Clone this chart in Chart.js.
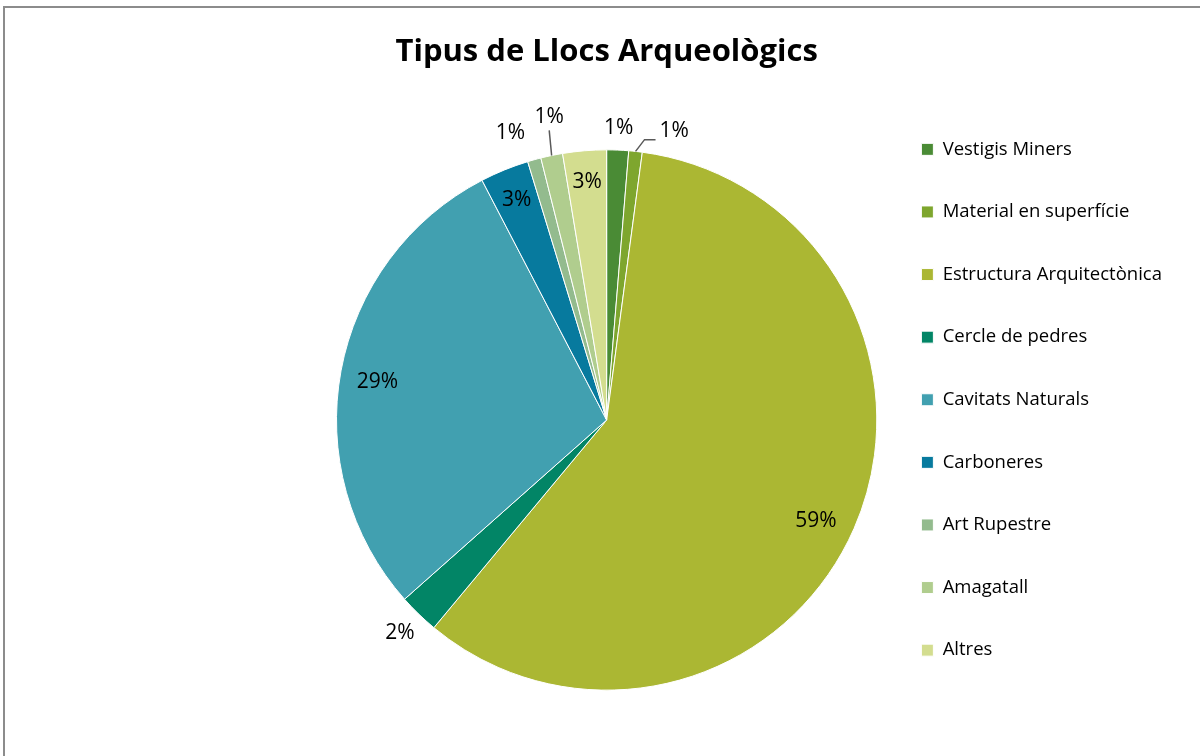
<!DOCTYPE html>
<html>
<head>
<meta charset="utf-8">
<script src="https://cdn.jsdelivr.net/npm/chart.js@4.4.0/dist/chart.umd.min.js"></script>
<style>
    body { margin: 0; background: #fff; }
    #wrap { position: relative; width: 1200px; height: 756px; overflow: hidden; }
    #frame { position: absolute; left: 3px; top: 6px; width: 1300px; height: 900px;
             border-left: 2px solid #8c8c8c; border-top: 2px solid #8c8c8c; pointer-events: none; }
    canvas { position: absolute; left: 0; top: 0; }
</style>
</head>
<body>
<div id="wrap">
    <canvas id="pieChart" width="1200" height="756"></canvas>
    <div id="frame"></div>
</div>
<script>
var categories = ['Vestigis Miners', 'Material en superfície', 'Estructura Arquitectònica', 'Cercle de pedres',
    'Cavitats Naturals', 'Carboneres', 'Art Rupestre', 'Amagatall', 'Altres'];
var siteCounts = [13, 8, 587, 24, 288, 29, 8, 13, 26];
var sliceColors = ['#4a8b35', '#7ea62e', '#abb733', '#028566', '#41a0b0', '#077a9e', '#93bb8e', '#b0cd8e', '#d3dd8f'];

// label placement: distance from centre (fraction of radius) and angle nudge in degrees
var labelRadius = [1.08, 1.10, 0.86, 1.10, 0.86, 0.88, 1.12, 1.14, 0.885];
var labelShift = [0, 7, 2, 0, -1, 0, -3, 1, 0];
var leaderLines = [null, 'elbow', null, null, null, null, null, 'straight', null];

var pieLabels = {
    id: 'pieLabels',
    afterDatasetsDraw: function (chart) {
        var ctx = chart.ctx;
        var data = chart.data.datasets[0].data;
        var total = data.reduce(function (a, b) { return a + b; }, 0);
        var arcs = chart.getDatasetMeta(0).data;
        ctx.save();
        ctx.font = '21px "Open Sans"';
        ctx.fillStyle = '#000';
        ctx.textAlign = 'center';
        ctx.textBaseline = 'middle';
        arcs.forEach(function (arc, i) {
            var p = arc.getProps(['x', 'y', 'startAngle', 'endAngle', 'outerRadius'], true);
            var mid = (p.startAngle + p.endAngle) / 2;
            var ang = mid + labelShift[i] * Math.PI / 180;
            var r = p.outerRadius * labelRadius[i];
            var tx = p.x + Math.cos(ang) * r;
            var ty = p.y + Math.sin(ang) * r;
            var text = Math.round(data[i] * 100 / total) + '%';
            ctx.fillText(text, tx, ty);

            if (leaderLines[i]) {
                var ex = p.x + Math.cos(mid) * p.outerRadius;
                var ey = p.y + Math.sin(mid) * p.outerRadius;
                var w = ctx.measureText(text).width;
                ctx.beginPath();
                ctx.strokeStyle = '#595959';
                ctx.lineWidth = 1.5;
                ctx.moveTo(ex, ey);
                if (leaderLines[i] === 'elbow') {
                    var lx = tx - w / 2 - 4;
                    ctx.lineTo(lx - 11, ty + 9);
                    ctx.lineTo(lx, ty + 9);
                } else {
                    ctx.lineTo(tx, ty + 13);
                }
                ctx.stroke();
            }
        });
        ctx.restore();
    }
};

var pieChart = new Chart(document.getElementById('pieChart'), {
    type: 'pie',
    data: {
        labels: categories,
        datasets: [{
            data: siteCounts,
            backgroundColor: sliceColors,
            borderColor: '#ffffff',
            borderWidth: 1
        }]
    },
    options: {
        responsive: false,
        animation: false,
        layout: {
            padding: { left: 336, right: 28, top: 0, bottom: 12 }
        },
        plugins: {
            title: {
                display: true,
                fullSize: false,
                text: 'Tipus de Llocs Arqueològics',
                color: '#000',
                font: { family: 'Open Sans', size: 31, weight: 'bold', lineHeight: 1.2 },
                padding: { top: 33.4, bottom: 25.4 }
            },
            legend: {
                position: 'right',
                align: 'start',
                fullSize: false,
                labels: {
                    color: '#000',
                    font: { family: 'Open Sans', size: 18.5, lineHeight: 1 },
                    boxWidth: 12,
                    boxHeight: 12,
                    padding: 44.1
                }
            },
            tooltip: { enabled: false }
        }
    },
    plugins: [pieLabels]
});
</script>
</body>
</html>
